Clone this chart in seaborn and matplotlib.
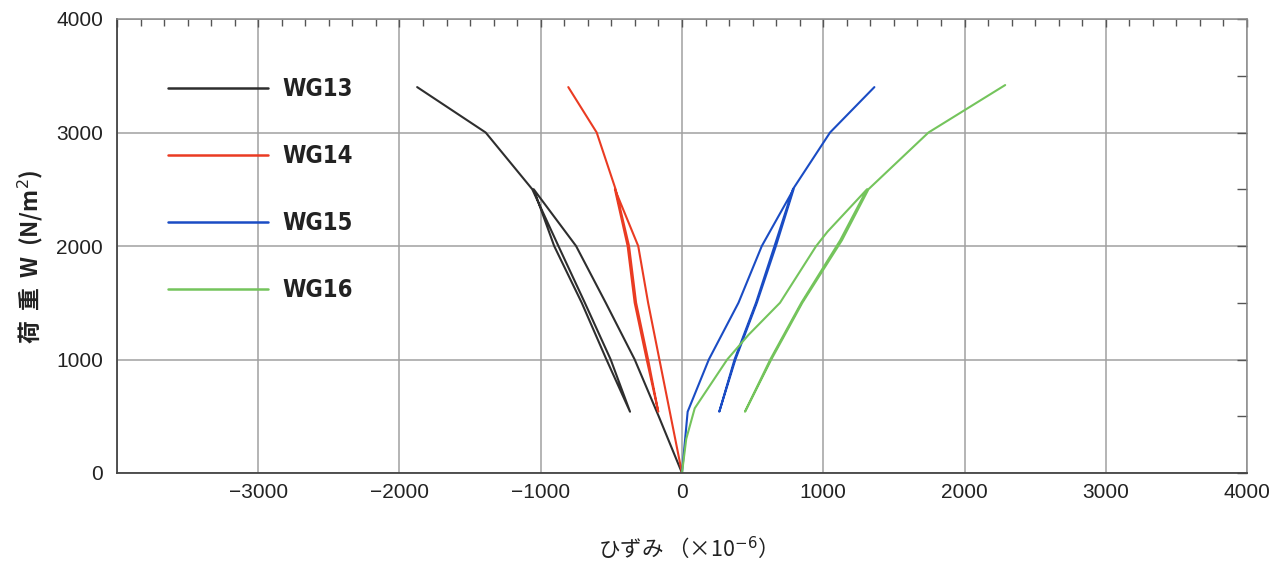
import numpy as np
import pandas as pd
import matplotlib
matplotlib.use("Agg")
import matplotlib.pyplot as plt
from matplotlib import font_manager
from matplotlib.lines import Line2D
from matplotlib.ticker import MultipleLocator, FixedLocator, FuncFormatter
import seaborn as sns

# Strain gauge readings (×10^-6) against applied load W (N/m^2):
# load to 2500, unload to ~540, reload to 2500 and on to failure.
gauges = ["WG13", "WG14", "WG15", "WG16"]

wg13_strain = [0, -165, -335, -540, -750, -1050, -905, -710, -535, -368,
               -505, -688, -875, -1060, -1390, -1875]
wg13_load = [0, 500, 1000, 1500, 2000, 2500, 2000, 1500, 1000, 540,
             1000, 1500, 2000, 2500, 3000, 3400]

wg14_strain = [0, -80, -160, -240, -310, -475, -385, -335, -250, -168,
               -240, -325, -375, -470, -604, -805]
wg14_load = [0, 500, 1000, 1500, 2000, 2500, 2000, 1500, 1000, 540,
             1000, 1500, 2000, 2500, 3000, 3400]

wg15_strain = [0, 40, 190, 400, 565, 790, 665, 530, 378, 264,
               372, 524, 655, 785, 1048, 1362]
wg15_load = [0, 540, 1000, 1500, 2000, 2500, 2000, 1500, 1000, 540,
             1000, 1500, 2000, 2500, 3000, 3400]

wg16_strain = [0, 30, 90, 320, 470, 694, 950, 1030, 1310, 1120, 845, 625,
               446, 632, 852, 1132, 1320, 1745, 2288]
wg16_load = [0, 300, 570, 1000, 1216, 1500, 2000, 2126, 2500, 2050, 1500,
             1000, 540, 1000, 1500, 2050, 2500, 3000, 3418]

x_tick_values = [-3000, -2000, -1000, 0, 1000, 2000, 3000, 4000]
y_tick_values = [0, 1000, 2000, 3000, 4000]

colors = {"WG13": "#2e2e2e", "WG14": "#ea3b22", "WG15": "#1a4cc4", "WG16": "#74c45c"}

frames = []
for name, xs, ys in zip(gauges,
                        [wg13_strain, wg14_strain, wg15_strain, wg16_strain],
                        [wg13_load, wg14_load, wg15_load, wg16_load]):
    frames.append(pd.DataFrame({"gauge": name, "strain": xs, "load": ys,
                                "step": np.arange(len(xs))}))
df = pd.concat(frames, ignore_index=True)

sns.set_theme(style="white")
plt.rcParams["font.family"] = ["Liberation Sans", "DejaVu Sans"]

available = {f.name for f in font_manager.fontManager.ttflist}
if "Liberation Sans Narrow" in available:
    narrow_family = ["Liberation Sans Narrow", "DejaVu Sans"]
    narrow_stretch = "normal"
    legend_size = 20
else:
    narrow_family = ["DejaVu Sans"]
    narrow_stretch = "condensed"
    legend_size = 17

fig = plt.figure(figsize=(12.88, 5.62), dpi=100)
ax = fig.add_axes([117 / 1288, 89 / 562, 1130 / 1288, 454 / 562])

sns.lineplot(data=df, x="strain", y="load", hue="gauge", palette=colors,
             sort=False, estimator=None, linewidth=1.5, legend=False, ax=ax)

ax.set_xlim(-4000, 4000)
ax.set_ylim(0, 4000)

# grid every 1000 in both directions
ax.xaxis.set_major_locator(FixedLocator([-4000] + x_tick_values))
ax.yaxis.set_major_locator(FixedLocator(y_tick_values))
ax.xaxis.set_minor_locator(MultipleLocator(1000 / 6))
ax.yaxis.set_minor_locator(MultipleLocator(500))
ax.grid(True, which="major", color="#a0a0a0", linewidth=1.1)
ax.set_axisbelow(True)

ax.xaxis.set_major_formatter(FuncFormatter(
    lambda v, p: "" if v <= -4000 else f"{int(v)}".replace("-", "\u2212")))
ax.yaxis.set_major_formatter(FuncFormatter(lambda v, p: f"{int(v)}"))

ax.tick_params(axis="both", which="both", direction="in", top=True, right=True,
               color="#555555")
ax.tick_params(axis="x", which="major", length=6, width=1.0, labelsize=15, pad=7)
ax.tick_params(axis="x", which="minor", length=5, width=1.0)
ax.tick_params(axis="y", which="major", length=7, width=1.0, labelsize=15, pad=10)
ax.tick_params(axis="y", which="minor", length=7, width=1.0)
for lab in ax.get_xticklabels() + ax.get_yticklabels():
    lab.set_color("#222222")

for side in ["left", "bottom"]:
    ax.spines[side].set_color("#444444")
    ax.spines[side].set_linewidth(1.3)
for side in ["top", "right"]:
    ax.spines[side].set_color("#8a8a8a")
    ax.spines[side].set_linewidth(1.1)

ax.set_xlabel("ひずみ （×10$^{-6}$）", fontsize=15.5,
              family=["Noto Sans CJK JP", "DejaVu Sans"], color="#222222")
ax.xaxis.set_label_coords(0.5, -0.165)
ax.xaxis.label.set_va("center")

ax.set_ylabel("荷  重  W  (N/m$^2$)", fontsize=16.5, fontweight="bold",
              family=["Noto Sans CJK JP", "DejaVu Sans"], color="#222222")
ax.yaxis.set_label_coords(-0.077, 0.476)
ax.yaxis.label.set_va("center")

handles = [Line2D([], [], color=colors[g], linewidth=1.8) for g in gauges]
leg = ax.legend(handles, gauges, loc="upper left", bbox_to_anchor=(0.045, 0.872),
                frameon=False, borderpad=0, borderaxespad=0,
                handlelength=72 / legend_size, handletextpad=10.8 / legend_size,
                labelspacing=(50.8 - legend_size * 1.17) / legend_size,
                prop=font_manager.FontProperties(family=narrow_family,
                                                 stretch=narrow_stretch,
                                                 weight="bold", size=legend_size))
for t in leg.get_texts():
    t.set_color("#222222")

fig.savefig("out.png", dpi=100)
